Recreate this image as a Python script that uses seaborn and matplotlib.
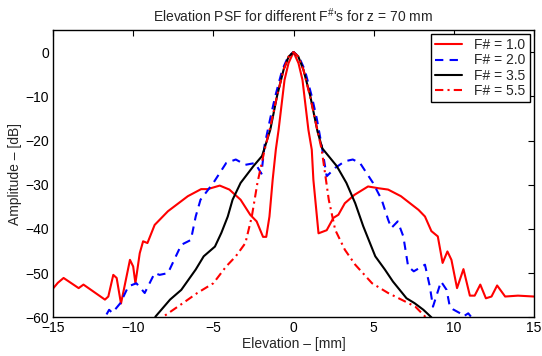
import matplotlib
matplotlib.use("Agg")
import matplotlib.pyplot as plt
import seaborn as sns
import pandas as pd

# ---- data ----
x_f10 = [-15, -14.7, -14.34, -13.4, -13.1, -11.76, -11.55, -11.24, -11.03, -10.76, -10.2, -10.0, -9.86,
         -9.59, -9.38, -9.11, -8.66, -7.83, -6.59, -5.76, -5.35, -4.6, -4.0, -3.3, -2.7, -2.3, -1.9,
         -1.7, -1.5, -1.3, -1.1, -0.93, -0.56, -0.31, 0, 0.31, 0.56, 0.93, 1.14, 1.24, 1.56, 2.07,
         2.49, 2.8, 3.2, 3.8, 4.65, 5.3, 5.9, 6.7, 7.8, 8.2, 8.6, 9.0, 9.3, 9.6, 9.85, 10.2, 10.6,
         11.0, 11.3, 11.65, 12.0, 12.35, 12.7, 13.2, 14.0, 15]
y_f10 = [-53.5, -52.2, -51.1, -53.4, -52.6, -56.0, -55.3, -50.4, -51.1, -56.9, -47.0, -48.5, -52.3,
         -45.5, -42.8, -43.2, -39.1, -36.0, -32.6, -31.0, -31.0, -30.2, -31.1, -33.4, -36.8, -38.3, -41.8,
         -41.8, -37.2, -28.9, -22.0, -17.6, -6.3, -2.5, 0, -2.5, -6.3, -17.6, -22.1, -28.9, -41.0, -40.3,
         -37.5, -36.8, -34.2, -32.3, -30.4, -30.8, -31.1, -32.6, -35.7, -37.2, -40.5, -41.7, -47.7, -45.1,
         -47.0, -53.4, -49.1, -55.1, -55.1, -52.6, -55.7, -55.3, -52.8, -55.3, -55.1, -55.3]

x_f20 = [-12.2, -11.76, -11.5, -11.3, -10.8, -10.3, -9.8, -9.28, -8.66, -8.35, -7.83, -7.0, -6.4, -6.1,
         -5.8, -5.0, -4.2, -3.6, -3.0, -2.4, -2.0, -1.8, -1.45, -1.14, -0.7, -0.33, 0, 0.33, 0.7, 1.14,
         1.45, 1.75, 2.07, 2.6, 3.2, 3.7, 4.15, 4.96, 5.5, 5.9, 6.1, 6.5, 6.85, 7.15, 7.5, 8.2, 8.5, 8.7,
         8.9, 9.2, 9.55, 9.75, 9.95, 10.4, 10.6, 10.9, 11.1, 11.5]
y_f20 = [-62, -60, -58.3, -59, -56.8, -53, -52.3, -54.5, -50, -50.4, -50, -43.6, -42.5, -37.2,
         -33.4, -29.6, -25.1, -24.3, -25.5, -25.1, -27.5, -21, -15, -10, -4, -1, 0, -1, -4, -10,
         -15, -21, -28.1, -26.2, -24.7, -24.3, -25.1, -29.6, -33.4, -37.9, -39.8, -38.3, -41.7, -48.5,
         -49.6, -48.1, -53, -57.6, -55.3, -51.9, -53.8, -57.6, -58.2, -59.1, -59.8, -59.1, -60, -62]

x_f35 = [-8.9, -8.6, -7.7, -7.0, -6.1, -5.6, -4.9, -4.5, -4.1, -3.8, -3.3, -2.5, -1.96, -1.45, -1.03,
         -0.62, -0.3, 0, 0.3, 0.62, 1.05, 1.5, 1.8, 2.7, 3.3, 3.85, 4.35, 5.1, 5.7, 6.2, 7.05, 7.55,
         8.1, 8.6, 8.9]
y_f35 = [-62, -59.8, -56, -53.8, -49.2, -46.2, -44, -40.9, -37.2, -33.4, -29.6, -25.8, -23.5, -17.6, -10,
         -4, -1, 0, -1, -4, -10, -18, -21.8, -25.8, -29.6, -34.2, -39.4, -46.2, -49.2, -51.9, -55.7, -56.8,
         -58.3, -60, -62]

x_f55 = [-8.4, -8.1, -6.9, -6.0, -5.0, -4.2, -3.6, -3.0, -2.6, -2.25, -1.8, -1.45, -1.03, -0.62, -0.3,
         0, 0.3, 0.62, 1.03, 1.45, 1.76, 2.2, 2.6, 3.2, 3.85, 4.9, 5.9, 6.95, 7.6, 8.2, 8.5]
y_f55 = [-62, -59.8, -56.8, -54.5, -52.3, -48.5, -46.2, -43.2, -37.2, -29.6, -22.1, -17, -10, -4, -1,
         0, -1, -4, -10, -17, -22.1, -33.4, -40.2, -44.7, -48.1, -52.3, -54.5, -56.4, -57.6, -59.8, -62]

labels = ["F# = 1.0", "F# = 2.0", "F# = 3.5", "F# = 5.5"]
x_ticks = [-15, -10, -5, 0, 5, 10, 15]
y_ticks = [0, -10, -20, -30, -40, -50, -60]

# ---- style ----
sns.set_style("white")
plt.rcParams["font.family"] = ["Liberation Sans", "DejaVu Sans"]
plt.rcParams["mathtext.fontset"] = "custom"
plt.rcParams["mathtext.rm"] = "Liberation Sans"
plt.rcParams["mathtext.it"] = "Liberation Sans"
plt.rcParams["font.size"] = 10

fig = plt.figure(figsize=(5.42, 3.56), dpi=100)
ax = fig.add_axes([53 / 542, 1 - 317.3 / 356, (534 - 53) / 542, (317.3 - 30) / 356])

series = [
    (x_f10, y_f10, "#ff0000", "-"),
    (x_f20, y_f20, "#0000ff", (0, (4, 3))),
    (x_f35, y_f35, "#000000", "-"),
    (x_f55, y_f55, "#ff0000", (0, (4, 2, 1, 2))),
]
for (xs, ys, c, ls), lab in zip(series, labels):
    df = pd.DataFrame({"x": xs, "y": ys})
    sns.lineplot(data=df, x="x", y="y", sort=False, estimator=None, ax=ax,
                 color=c, linestyle=ls, linewidth=1.5, label=lab)

ax.set_xlim(-15, 15)
ax.set_ylim(-60, 5)
ax.set_xticks(x_ticks)
ax.set_yticks(y_ticks)
ax.set_xticklabels([f"{t}".replace("-", "\u2212") for t in x_ticks])
ax.set_yticklabels([f"{t}".replace("-", "\u2212") for t in y_ticks])
ax.tick_params(direction="in", length=4, width=0.8, top=True, right=True, labelsize=10,
               colors="black", pad=3)
for s in ax.spines.values():
    s.set_visible(True)
    s.set_color("black")
    s.set_linewidth(1.0)

ax.set_xlabel("Elevation \u2013 [mm]", fontsize=10, labelpad=1)
ax.set_ylabel("Amplitude \u2013 [dB]", fontsize=10, labelpad=2)
ax.set_title(r"Elevation PSF for different F$^{\#}$'s for z = 70 mm", fontsize=10, pad=6)

leg = ax.legend(loc="upper right", fontsize=10, frameon=True, fancybox=False, framealpha=1,
                edgecolor="black", borderaxespad=0.3, handlelength=1.9, labelspacing=0.08,
                borderpad=0.3, handletextpad=0.9)
leg.get_frame().set_linewidth(1.0)

fig.savefig("out.png", dpi=100)
